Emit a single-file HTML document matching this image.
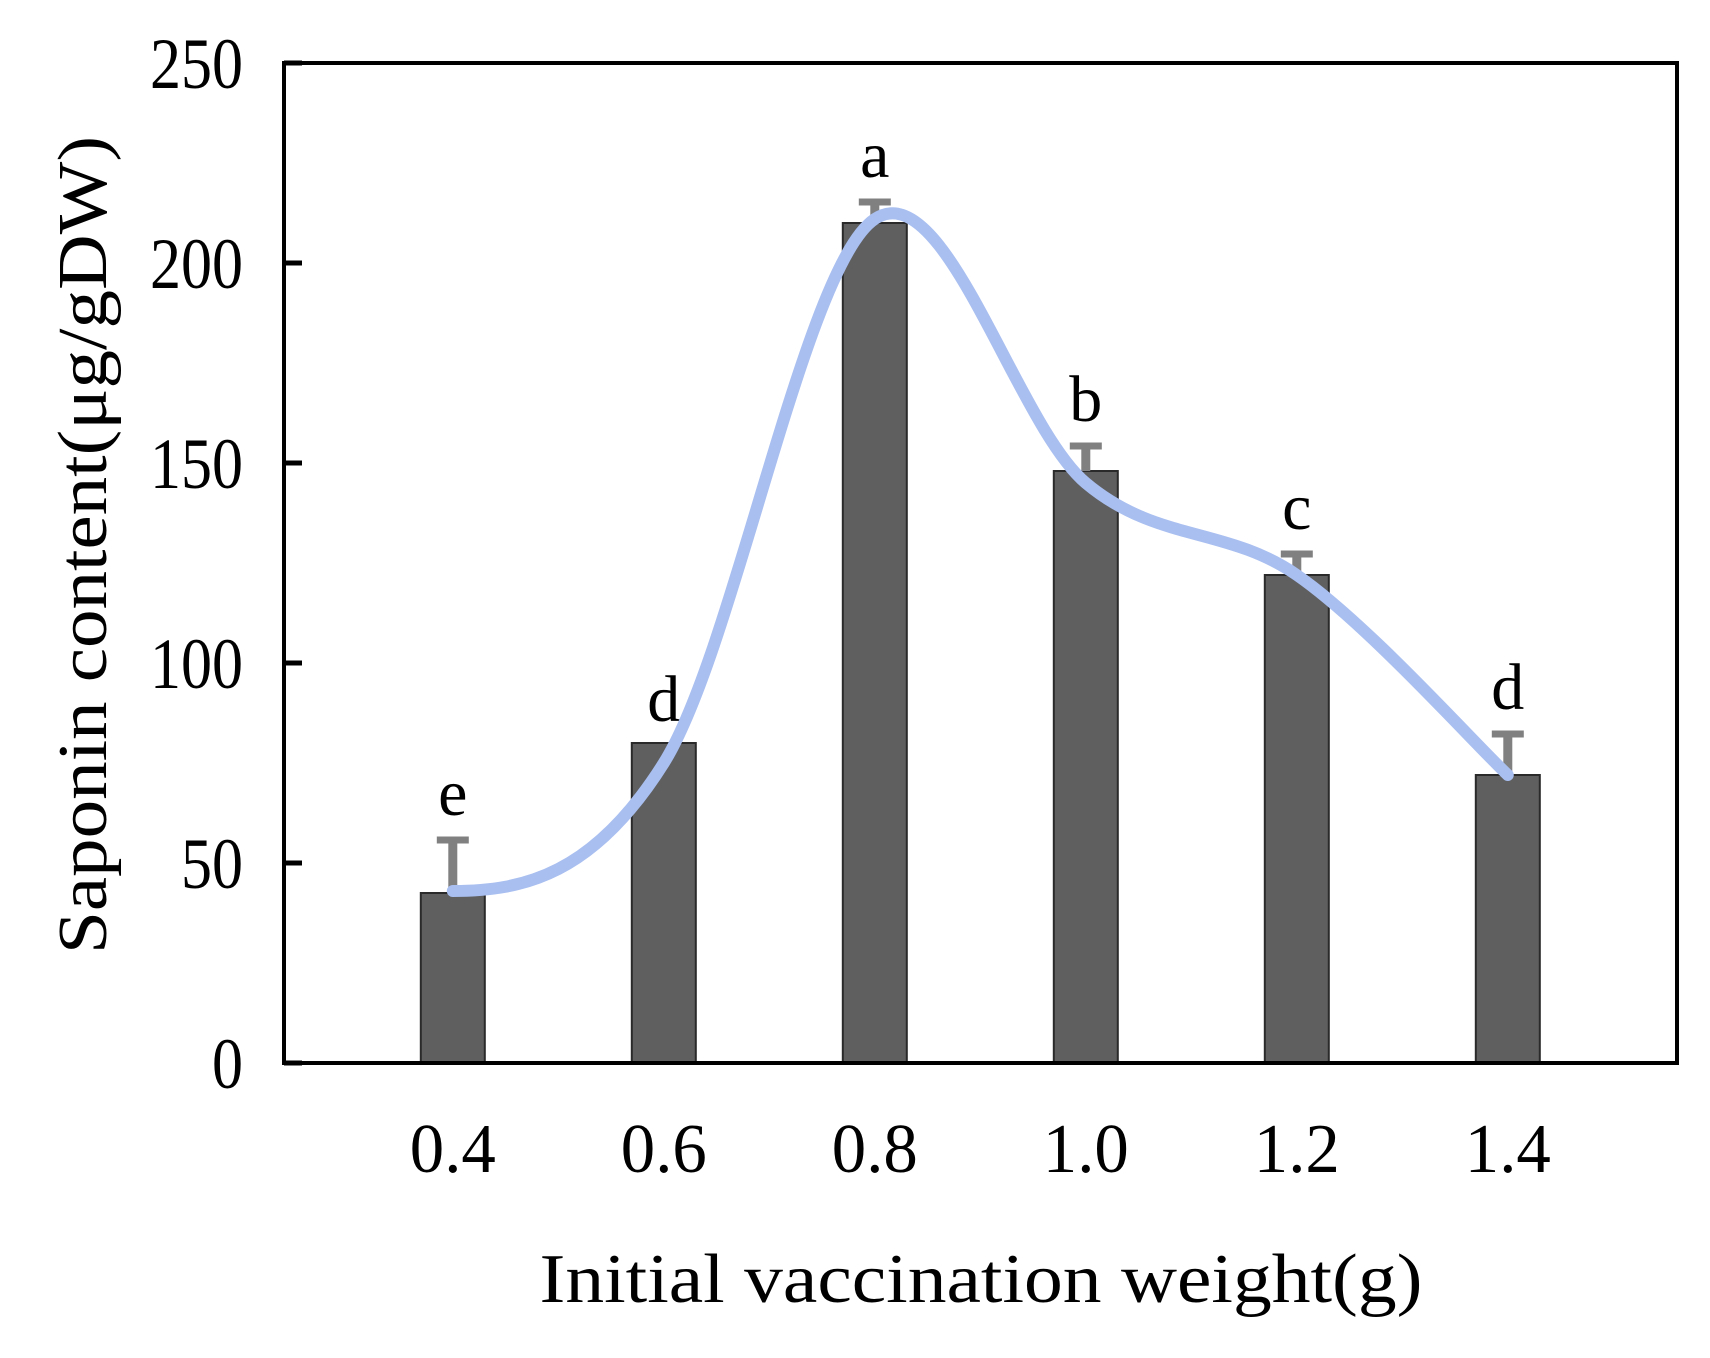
<!DOCTYPE html>
<html><head><meta charset="utf-8"><style>
html,body{margin:0;padding:0;background:#fff;}
svg{display:block;font-family:"Liberation Serif",serif;}
</style></head><body>
<svg id="chart" width="1710" height="1358" viewBox="0 0 1710 1358">
<rect x="0" y="0" width="1710" height="1358" fill="#fff"/>
<g id="bars"></g><g id="curve"></g><g id="axes"></g>
</svg>
<script>
const categories = ["0.4","0.6","0.8","1.0","1.2","1.4"];
const values = [42.5, 80, 210, 148, 122, 72];
const errors = [14, 0, 6, 7, 6, 11];
const letters = ["e","d","a","b","c","d"];
const curveValues = [43, 75, 211, 145, 122, 72];
const yTicks = [0, 50, 100, 150, 200, 250];

const L=284, R=1677, T=63, B=1063, yMax=250, step=211, barW=64;
const ns="http://www.w3.org/2000/svg";
function y(v){return B-(v/yMax)*(B-T);}
function x(i){return L+(i+0.8)*step;}
function mk(tag,attrs,parent,text){const e=document.createElementNS(ns,tag);for(const k in attrs)e.setAttribute(k,attrs[k]);if(text!==undefined)e.textContent=text;parent.appendChild(e);return e;}
const gb=document.getElementById('bars'), gc=document.getElementById('curve'), ga=document.getElementById('axes');

categories.forEach((c,i)=>{
  const cx=x(i);
  const r=mk('rect',{x:cx-barW/2,y:y(values[i]),width:barW,height:B-y(values[i]),fill:'#5f5f5f',stroke:'#2a2a2a','stroke-width':2},gb);
  
  
  if(errors[i]>0){
    const eg=mk('g',{},gb);
    
    
    mk('line',{x1:cx,x2:cx,y1:y(values[i]),y2:y(values[i]+errors[i]),stroke:'#808080','stroke-width':9},eg);
    mk('line',{x1:cx-16,x2:cx+16,y1:y(values[i]+errors[i])+3,y2:y(values[i]+errors[i])+3,stroke:'#808080','stroke-width':7},eg);
  }
  const top=y(values[i]+errors[i]);
  const t=mk('text',{x:cx,y:top-22,'font-size':66,'text-anchor':'middle',fill:'#000'},gb,letters[i]);
  
  
  const xl=mk('text',{x:cx,y:1172,'font-size':70,'text-anchor':'middle',textLength:86,lengthAdjust:'spacingAndGlyphs',fill:'#000'},ga,c);
  
  
});

const pts=curveValues.map((v,i)=>[x(i),y(v)]);
let d='M'+pts[0][0]+','+pts[0][1];
for(let i=0;i<pts.length-1;i++){
  const p0=pts[Math.max(0,i-1)],p1=pts[i],p2=pts[i+1],p3=pts[Math.min(pts.length-1,i+2)];
  let c1=[p1[0]+(p2[0]-p0[0])/6,p1[1]+(p2[1]-p0[1])/6];
  if(i===0) c1=[p1[0]+(p2[0]-p1[0])/3,p1[1]];
  const c2=[p2[0]-(p3[0]-p1[0])/6,p2[1]-(p3[1]-p1[1])/6];
  d+=' C'+c1[0]+','+c1[1]+' '+c2[0]+','+c2[1]+' '+p2[0]+','+p2[1];
}
const cp=mk('path',{d:d,fill:'none',stroke:'#a9bff0','stroke-width':12,'stroke-linecap':'round'},gc);



const frame=mk('rect',{x:L,y:T,width:R-L,height:B-T,fill:'none',stroke:'#000','stroke-width':4},ga);


yTicks.forEach(v=>{
  const tk=mk('line',{x1:L,x2:L+18,y1:y(v),y2:y(v),stroke:'#000','stroke-width':5},ga);
  
  
  const s=String(v);
  const tl=mk('text',{x:243,y:y(v)+25,'font-size':72,'text-anchor':'end',textLength:s.length*31,lengthAdjust:'spacingAndGlyphs',fill:'#000'},ga,s);
  
  
});
const xt=mk('text',{x:981,y:1302,'font-size':70,'text-anchor':'middle',textLength:883,lengthAdjust:'spacingAndGlyphs',fill:'#000'},ga,'Initial vaccination weight(g)');


const yt=mk('text',{x:0,y:0,'font-size':70,'text-anchor':'middle',textLength:818,lengthAdjust:'spacingAndGlyphs',fill:'#000',transform:'translate(106,545) rotate(-90)'},ga,'Saponin content(μg/gDW)');


</script>
</body></html>
